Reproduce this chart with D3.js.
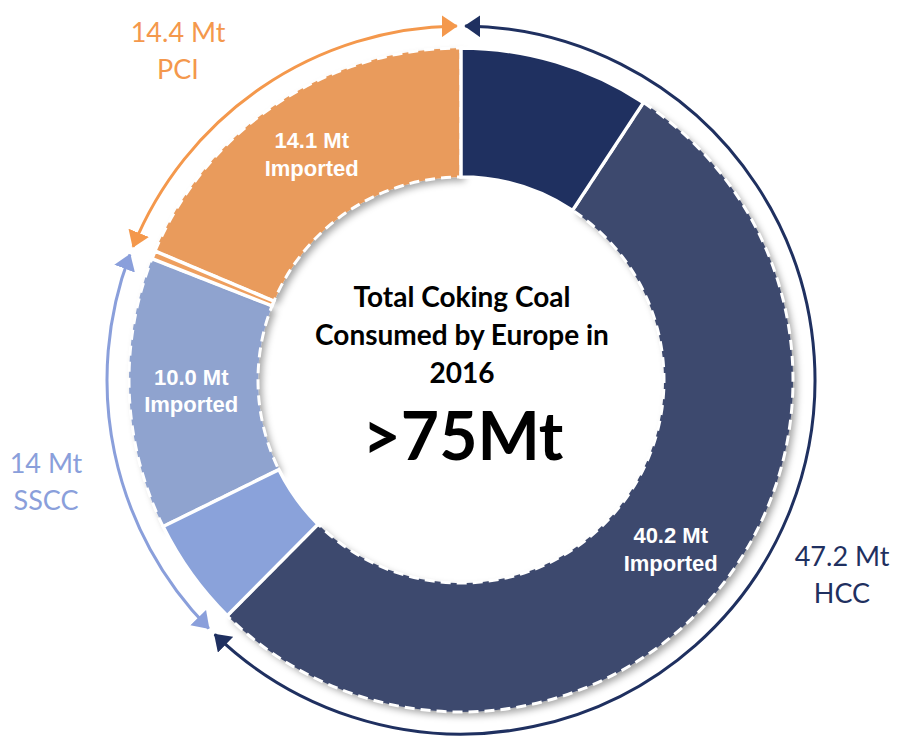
<!DOCTYPE html>
<html>
<head>
<meta charset="utf-8">
<script src="https://cdn.jsdelivr.net/npm/d3@7"></script>
<style>
  html, body { margin: 0; padding: 0; background: #fff; }
  svg { display: block; }
</style>
</head>
<body>
<div id="chart"></div>
<script>
// slices, clockwise from 12 o'clock
const segments = ['HCC domestic', 'HCC imported', 'SSCC domestic', 'SSCC imported', 'PCI domestic', 'PCI imported'];
const segmentValues = [7.0, 40.2, 4.0, 10.0, 0.3, 14.1];
const segmentImported = [false, true, false, true, false, true];
const segmentColors = ['#1f3060', '#3e4a6e', '#8aa2da', '#8fa3cf', '#ee9f5f', '#e99b5b'];

// coal types (outer arrows)
const groups = ['HCC', 'SSCC', 'PCI'];
const groupTotals = [47.2, 14, 14.4];
const groupLabels = ['47.2 Mt', '14 Mt', '14.4 Mt'];
const groupColors = ['#1f3060', '#8a9fdb', '#f4984c'];

const centerLines = ['Total Coking Coal', 'Consumed by Europe in', '2016'];
const centerTotal = '>75Mt';

const width = 897;
const height = 738;
const cx = 461, cy = 380;
const outerR = 332, innerR = 203, arrowR = 354;

const svg = d3.select('#chart')
  .append('svg')
  .attr('width', width)
  .attr('height', height);

const defs = svg.append('defs');
const shadow = defs.append('filter')
  .attr('id', 'shadow')
  .attr('x', '-20%').attr('y', '-20%')
  .attr('width', '140%').attr('height', '140%');
shadow.append('feDropShadow')
  .attr('dx', 4).attr('dy', 4)
  .attr('stdDeviation', 3.5)
  .attr('flood-color', '#000')
  .attr('flood-opacity', 0.35);

groups.forEach((g, i) => {
  defs.append('marker')
    .attr('id', `arrow-${g}`)
    .attr('viewBox', '0 0 16 22')
    .attr('markerUnits', 'userSpaceOnUse')
    .attr('markerWidth', 16)
    .attr('markerHeight', 22)
    .attr('refX', 15)
    .attr('refY', 11)
    .attr('orient', 'auto-start-reverse')
    .append('path')
    .attr('d', 'M0,0L16,11L0,22Z')
    .attr('fill', groupColors[i]);
});

const root = svg.append('g')
  .attr('transform', `translate(${cx},${cy})`);

const pie = d3.pie().sort(null).value(d => d.value);
const arc = d3.arc().innerRadius(innerR).outerRadius(outerR);

const segData = segments.map((s, i) => ({
  name: s, value: segmentValues[i], imported: segmentImported[i], color: segmentColors[i]
}));
const arcs = pie(segData);

// imported slices first, with shadow and dashed outline
root.selectAll('.imported')
  .data(arcs.filter(d => d.data.imported))
  .enter()
  .append('path')
  .attr('class', 'imported')
  .attr('d', arc)
  .attr('fill', d => d.data.color)
  .attr('filter', 'url(#shadow)');

root.selectAll('.dash')
  .data(arcs.filter(d => d.data.imported))
  .enter()
  .append('path')
  .attr('class', 'dash')
  .attr('d', arc)
  .attr('fill', 'none')
  .attr('stroke', '#fff')
  .attr('stroke-width', 3)
  .attr('stroke-dasharray', '10,6');

root.selectAll('.domestic')
  .data(arcs.filter(d => !d.data.imported))
  .enter()
  .append('path')
  .attr('class', 'domestic')
  .attr('d', arc)
  .attr('fill', d => d.data.color)
  .attr('stroke', '#fff')
  .attr('stroke-width', 3.5);

// slice labels
const labelArc = d3.arc().innerRadius(270).outerRadius(270);
const labels = root.selectAll('.slice-label')
  .data(arcs.filter(d => d.data.imported))
  .enter()
  .append('text')
  .attr('class', 'slice-label')
  .attr('transform', d => `translate(${labelArc.centroid(d)})`)
  .attr('text-anchor', 'middle')
  .style('font-family', '"Liberation Sans", Arial, sans-serif')
  .style('font-weight', 'bold')
  .style('font-size', '22px')
  .attr('fill', '#fff');
labels.append('tspan')
  .attr('x', 0).attr('dy', '-0.3em')
  .text(d => `${d.data.value.toFixed(1)} Mt`);
labels.append('tspan')
  .attr('x', 0).attr('dy', '1.25em')
  .text('Imported');

// outer arrows
const groupArcs = d3.pie().sort(null)(groupTotals);
const gap = 0.012;
root.selectAll('.arrow')
  .data(groupArcs)
  .enter()
  .append('path')
  .attr('class', 'arrow')
  .attr('d', d => {
    const p = d3.path();
    const a0 = d.startAngle + gap - Math.PI / 2;
    const a1 = d.endAngle - gap - Math.PI / 2;
    p.arc(0, 0, arrowR, a0, a1);
    return p.toString();
  })
  .attr('fill', 'none')
  .attr('stroke', (d, i) => groupColors[i])
  .attr('stroke-width', 3)
  .attr('marker-start', (d, i) => `url(#arrow-${groups[i]})`)
  .attr('marker-end', (d, i) => `url(#arrow-${groups[i]})`);

// group labels
const groupLabelPos = [[842, 566], [46, 473], [178, 42]];
groups.forEach((g, i) => {
  const t = svg.append('text')
    .attr('x', groupLabelPos[i][0])
    .attr('y', groupLabelPos[i][1])
    .attr('text-anchor', 'middle')
    .style('font-family', 'Lato, "Open Sans", sans-serif')
    .style('font-size', '27px')
    .attr('fill', groupColors[i]);
  t.append('tspan').attr('x', groupLabelPos[i][0]).text(groupLabels[i]);
  t.append('tspan').attr('x', groupLabelPos[i][0]).attr('dy', 37).text(g);
});

// centre text
root.selectAll('.center-line')
  .data(centerLines)
  .enter()
  .append('text')
  .attr('class', 'center-line')
  .attr('x', 1)
  .attr('y', (d, i) => -73 + i * 38)
  .attr('text-anchor', 'middle')
  .style('font-family', 'Lato, sans-serif')
  .style('font-weight', 'bold')
  .style('font-size', '28px')
  .attr('fill', '#000')
  .text(d => d);

root.append('text')
  .attr('x', 2)
  .attr('y', 80)
  .attr('text-anchor', 'middle')
  .style('font-family', 'Lato, sans-serif')
  .style('font-weight', 'bold')
  .style('font-size', '66px')
  .attr('fill', '#000')
  .text(centerTotal);
</script>
</body>
</html>
